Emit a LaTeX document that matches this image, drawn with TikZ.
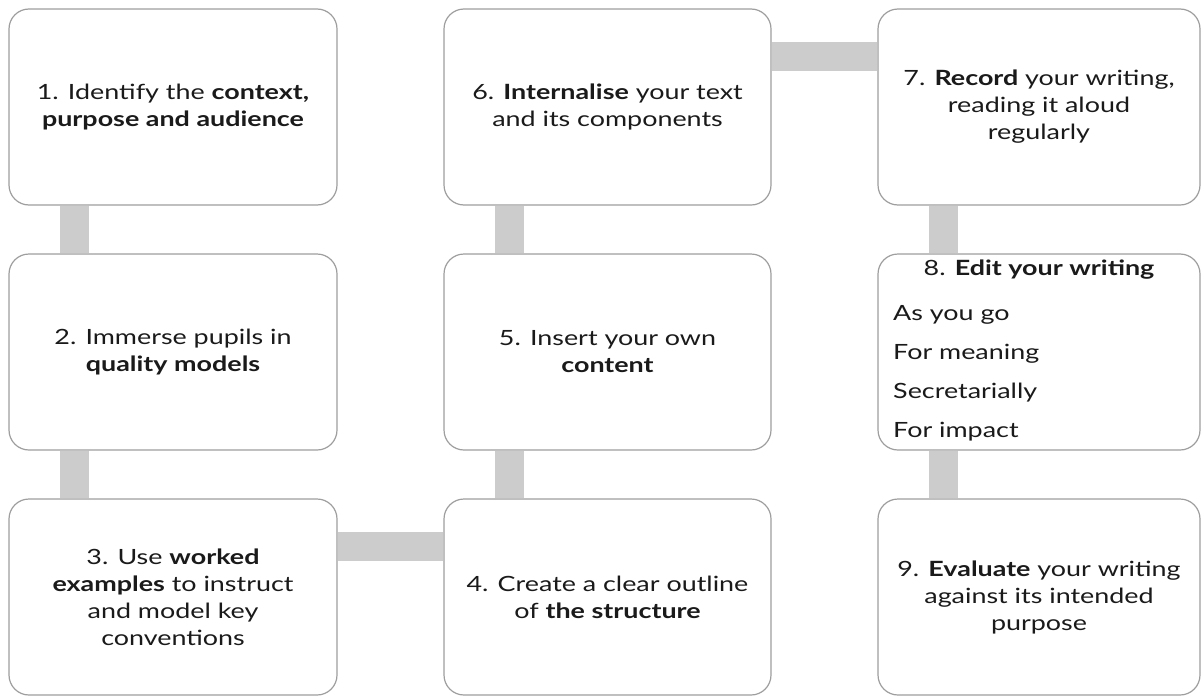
\documentclass[tikz,border=0pt]{standalone}
\usepackage{fontspec}
\setmainfont{Lato}[FakeStretch=1.28]
\usetikzlibrary{backgrounds}
\definecolor{boxgrey}{HTML}{9E9E9E}
\definecolor{linkgrey}{HTML}{CCCCCC}
\definecolor{inkblack}{HTML}{1A1A1A}
\tikzset{
    my-step/.style={
        draw=boxgrey, line width=1.2pt, fill=white, rounded corners=20pt,
        minimum width=328pt, minimum height=196pt, inner sep=0pt,
        align=center, text=inkblack, font=\fontsize{21}{27}\selectfont
    },
    my-label/.style={
        inner sep=0pt, text=inkblack, font=\fontsize{21}{27}\selectfont
    },
    my-link/.style={
        draw=linkgrey, line width=29pt
    },
}

\begin{document}
\begin{tikzpicture}[x=1pt, y=-1pt]

        \useasboundingbox (0,0) rectangle (1201,696);

        % COLUMN 1
        \node[my-step] (step1) at (173,107) {1. Identify the \textbf{context,}\\\textbf{purpose and audience}};
        \node[my-step] (step2) at (173,352) {2. Immerse pupils in\\\textbf{quality models}};
        \node[my-step] (step3) at (173,597) {3. Use \textbf{worked}\\\textbf{examples} to instruct\\and model key\\conventions};

        % COLUMN 2
        \node[my-step, minimum width=327pt] (step4) at (607.5,597) {4. Create a clear outline\\of \textbf{the structure}};
        \node[my-step, minimum width=327pt] (step5) at (607.5,352) {5. Insert your own\\\textbf{content}};
        \node[my-step, minimum width=327pt] (step6) at (607.5,107) {6. \textbf{Internalise} your text\\and its components};

        % COLUMN 3
        \node[my-step, minimum width=322pt] (step7) at (1039,107) {7. \textbf{Record} your writing,\\reading it aloud\\regularly};
        \node[my-step, minimum width=322pt] (step8) at (1039,352) {};
        \node[my-step, minimum width=322pt] (step9) at (1039,597) {9. \textbf{Evaluate} your writing\\against its intended\\purpose};

        % STEP 8 TITLE AND LIST
        \node[my-label, anchor=base] (step8title) at (1039,275) {8. \textbf{Edit your writing}};
        \foreach \txt [count=\i] in {As you go, For meaning, Secretarially, For impact}
            \node[my-label, anchor=base west] (edit\i) at (893,281+39*\i) {\txt};

        % LINKS BETWEEN STEPS
        \begin{scope}[on background layer]
            \draw[my-link] ([xshift=66.5pt]step1.south west) -- ([xshift=66.5pt]step2.north west);
            \draw[my-link] ([xshift=66.5pt]step2.south west) -- ([xshift=66.5pt]step3.north west);
            \draw[my-link] ([yshift=-48pt]step3.north east) -- ([yshift=-48pt]step4.north west);
            \draw[my-link] ([xshift=66.5pt]step4.north west) -- ([xshift=66.5pt]step5.south west);
            \draw[my-link] ([xshift=66.5pt]step5.north west) -- ([xshift=66.5pt]step6.south west);
            \draw[my-link] ([yshift=-48pt]step6.north east) -- ([yshift=-48pt]step7.north west);
            \draw[my-link] ([xshift=66.5pt]step7.south west) -- ([xshift=66.5pt]step8.north west);
            \draw[my-link] ([xshift=66.5pt]step8.south west) -- ([xshift=66.5pt]step9.north west);
        \end{scope}

\end{tikzpicture}
\end{document}
